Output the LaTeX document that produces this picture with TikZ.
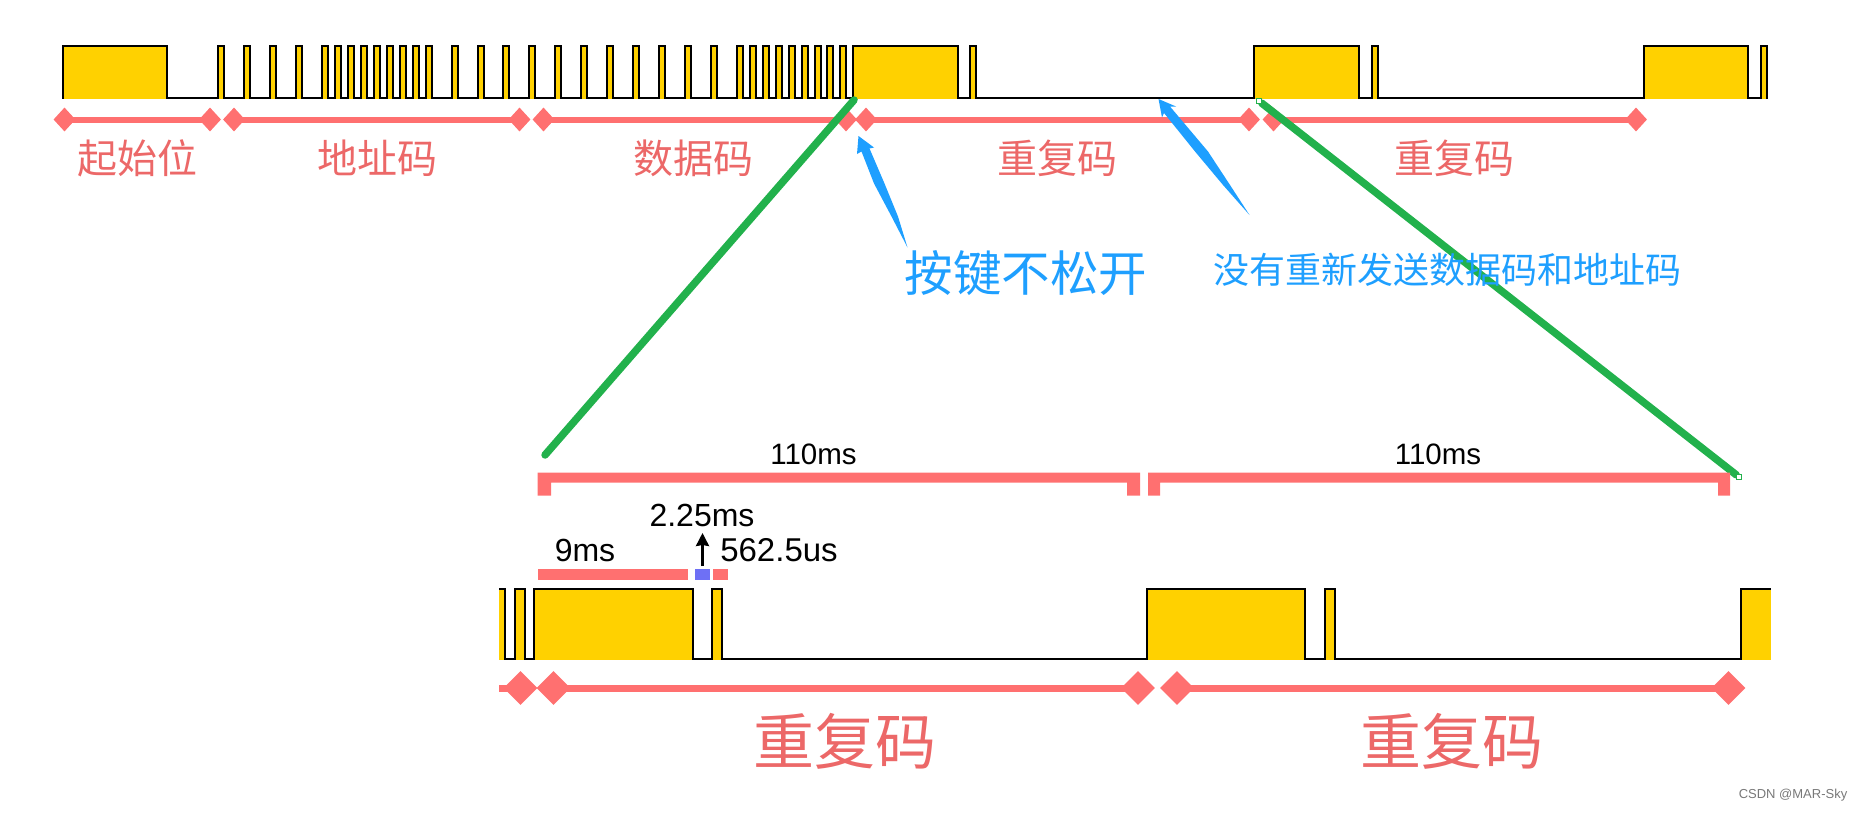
\documentclass[tikz,border=0pt]{standalone}
\usepackage{fontspec}
\setmainfont{Liberation Sans}
\newfontfamily\cjk{Noto Sans CJK SC}
\usepackage{xcolor}
\definecolor{irred}{RGB}{255,112,112}
\definecolor{irtext}{RGB}{236,104,104}
\definecolor{iryellow}{RGB}{255,209,0}
\definecolor{irblue}{RGB}{30,159,255}
\definecolor{irviolet}{RGB}{110,112,245}
\definecolor{irgreen}{RGB}{34,177,76}
\definecolor{irgray}{RGB}{120,120,120}
\usetikzlibrary{arrows.meta, positioning, shapes.geometric, calc}

\begin{document}
\begin{tikzpicture}[
  x=1pt, y=-1pt,
  wave/.style={line width=2pt, draw=black},
  pulse/.style={line width=2pt, draw=black, fill=iryellow, line join=miter},
  rule/.style={line width=#1, draw=irred},
  dsmall/.style={diamond, fill=irred, inner sep=0pt, minimum width=22pt, minimum height=24pt},
  dbig/.style={diamond, fill=irred, inner sep=0pt, minimum width=34pt, minimum height=34pt},
  ctitle/.style={text=irtext, inner sep=0pt, font=\cjk\fontsize{#1}{#1}\selectfont},
  btitle/.style={text=irblue, inner sep=0pt, font=\cjk\fontsize{#1}{#1}\selectfont},
  tlabel/.style={text=black, inner sep=0pt, font=\fontsize{#1}{#1}\selectfont},
  zoomline/.style={line width=7.5pt, draw=irgreen, line cap=round},
  zoomend/.style={rectangle, draw=irgreen, fill=white, line width=1pt, inner sep=0pt, minimum size=4.5pt}
]
\useasboundingbox (0,0) rectangle (1873,814);

% Upper waveform
\draw[wave] (62.5,97.5) -- (1767,97.5);
\foreach \xa/\xb in {62.5/166.5, 853/958, 1254/1358.5, 1643.5/1747.5}
  \draw[pulse] (\xa,98.5) -- (\xa,45.5) -- (\xb,45.5) -- (\xb,98.5);
\foreach \xa in {218,244,270,296,322,335,348,361,374,387,400,413,426,452,478,503,529,555,581,607,633,659,685,711,737,750,763,776,789,802,815,827,840,970,1371.5,1760.5}
  \draw[pulse] (\xa,98.5) -- (\xa,45.5) -- (\xa+6,45.5) -- (\xa+6,98.5);

% Upper segments
\node[dsmall] (ua) at (64.5,119.5) {};
\node[dsmall] (ub) at (210,119.5) {};
\node[dsmall] (uc) at (234,119.5) {};
\node[dsmall] (ud) at (519.5,119.5) {};
\node[dsmall] (ue) at (543.5,119.5) {};
\node[dsmall] (uf) at (846,119.5) {};
\node[dsmall] (ug) at (866,119.5) {};
\node[dsmall] (uh) at (1249,119.5) {};
\node[dsmall] (ui) at (1273.5,119.5) {};
\node[dsmall] (uj) at (1636,119.5) {};
\draw[rule=6pt] (ua.center) -- (ub.center);
\draw[rule=6pt] (uc.center) -- (ud.center);
\draw[rule=6pt] (ue.center) -- (uf.center);
\draw[rule=6pt] (ug.center) -- (uh.center);
\draw[rule=6pt] (ui.center) -- (uj.center);
\node[ctitle=40] (ustart) at (137.5,158) {起始位};
\node[ctitle=40] (uaddr) at (377,158) {地址码};
\node[ctitle=40] (udata) at (693.5,158) {数据码};
\node[ctitle=40] (urepa) at (1057,158) {重复码};
\node[ctitle=40] (urepb) at (1454.5,158) {重复码};

% Zoom lines
\coordinate (zla) at (854,100);
\coordinate (zlb) at (545,455);
\node[zoomend] (zra) at (1259,101) {};
\node[zoomend] (zrb) at (1739,477) {};
\draw[zoomline] (zla) -- (zlb);
\draw[zoomline] (zra) -- (zrb);
\node[zoomend] at (zra) {};
\node[zoomend] at (zrb) {};

% Blue notes
\node[btitle=48.5] (nkey) at (1026,273) {按键不松开};
\node[btitle=36] (nsame) at (1447,270) {没有重新发送数据码和地址码};
\coordinate (tipa) at (858.5,136);
\coordinate (taila) at (907.5,247.5);
\coordinate (tipb) at (1158.5,99);
\coordinate (tailb) at (1249.5,215);
\fill[irblue] (tipa) -- (874,147.5) -- (869.5,148.5) -- (884.5,183.5) -- (898,216.5) -- (taila) -- (891.5,216.5) -- (874,183.5) -- (861.5,151.5) -- (857,154) -- cycle;
\fill[irblue] (tipb) -- (1176,106.5) -- (1170,106.5) -- (1208,151.5) -- (1230,185) -- (tailb) -- (1223,185) -- (1195,151.5) -- (1164,113) -- (1162,117.5) -- cycle;

% Brackets
\fill[irred] (537.5,495.5) -- (537.5,472.5) -- (1140,472.5) -- (1140,495.5) -- (1127,495.5) -- (1127,482.5) -- (551,482.5) -- (551,495.5) -- cycle;
\fill[irred] (1148,495.5) -- (1148,472.5) -- (1730,472.5) -- (1730,495.5) -- (1718,495.5) -- (1718,482.5) -- (1160,482.5) -- (1160,495.5) -- cycle;
\node[tlabel=29.5] (ta) at (813.5,454) {110ms};
\node[tlabel=29.5] (tb) at (1438,454) {110ms};

% Timing marks
\fill[irred] (537.5,569) rectangle (688,580);
\fill[irviolet] (695,569) rectangle (710,580);
\fill[irred] (713,569) rectangle (728,580);
\node[tlabel=32] (tc) at (585,550) {9ms};
\node[tlabel=32] (td) at (702,515) {2.25ms};
\node[tlabel=33] (te) at (779,550) {562.5us};
\coordinate (mark) at (702.5,566);
\coordinate (marktip) at (702.5,533);
\draw[line width=2.5pt, -{Stealth[length=13pt,width=13pt,inset=1pt]}] (mark) -- (marktip);

% Lower waveform
\draw[wave] (499,658.5) -- (1741,658.5);
\fill[iryellow] (499,589) rectangle (505,659.5);
\draw[wave] (499,589) -- (505,589) -- (505,659.5);
\foreach \xa/\xb in {515/525, 534/692.5, 712/722, 1147/1305, 1325/1335}
  \draw[pulse] (\xa,659.5) -- (\xa,589) -- (\xb,589) -- (\xb,659.5);
\fill[iryellow] (1741,589) rectangle (1771,659.5);
\draw[wave] (1741,659.5) -- (1741,589) -- (1771,589);

% Lower segments
\coordinate (lstub) at (499,688);
\node[dbig] (la) at (520.5,688) {};
\node[dbig] (lb) at (553.5,688) {};
\node[dbig] (lc) at (1138,688) {};
\node[dbig] (ld) at (1177,688) {};
\node[dbig] (le) at (1728.5,688) {};
\draw[rule=7pt] (lstub) -- (la.center);
\draw[rule=7pt] (lb.center) -- (lc.center);
\draw[rule=7pt] (ld.center) -- (le.center);
\node[ctitle=61] (lrepa) at (844.5,741) {重复码};
\node[ctitle=61] (lrepb) at (1452,741) {重复码};

% Watermark
\node[text=irgray, inner sep=0pt, font=\fontsize{13}{13}\selectfont] (mk) at (1793,795.5) {CSDN @MAR-Sky};
\end{tikzpicture}
\end{document}
